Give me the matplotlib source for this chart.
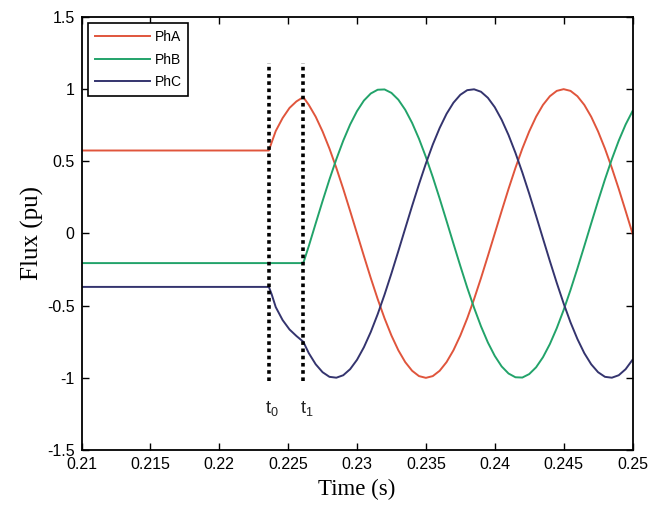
import matplotlib
matplotlib.use("Agg")
import matplotlib.pyplot as plt

# time samples (s)
time = [0.2100, 0.2236, 0.2238, 0.2241, 0.2246, 0.2251, 0.2256, 0.2261,
        0.2265, 0.2270, 0.2275, 0.2280, 0.2285, 0.2290, 0.2295, 0.2300,
        0.2305, 0.2310, 0.2315, 0.2320, 0.2325, 0.2330, 0.2335, 0.2340,
        0.2345, 0.2350, 0.2355, 0.2360, 0.2365, 0.2370, 0.2375, 0.2380,
        0.2385, 0.2390, 0.2395, 0.2400, 0.2405, 0.2410, 0.2415, 0.2420,
        0.2425, 0.2430, 0.2435, 0.2440, 0.2445, 0.2450, 0.2455, 0.2460,
        0.2465, 0.2470, 0.2475, 0.2480, 0.2485, 0.2490, 0.2495, 0.2500]

pha = [0.575, 0.575, 0.63, 0.71, 0.80, 0.87, 0.915, 0.945,
       0.891, 0.809, 0.707, 0.588, 0.454, 0.309, 0.156, 0.0,
       -0.156, -0.309, -0.454, -0.588, -0.707, -0.809, -0.891, -0.951,
       -0.988, -1.0, -0.988, -0.951, -0.891, -0.809, -0.707, -0.588,
       -0.454, -0.309, -0.156, 0.0, 0.156, 0.309, 0.454, 0.588,
       0.707, 0.809, 0.891, 0.951, 0.988, 1.0, 0.988, 0.951,
       0.891, 0.809, 0.707, 0.588, 0.454, 0.309, 0.156, 0.0]

phb = [-0.205, -0.205, -0.205, -0.205, -0.205, -0.205, -0.205, -0.205,
       -0.087, 0.070, 0.225, 0.375, 0.515, 0.643, 0.755, 0.848,
       0.921, 0.970, 0.996, 0.998, 0.974, 0.927, 0.857, 0.766,
       0.656, 0.530, 0.391, 0.242, 0.087, -0.070, -0.225, -0.375,
       -0.515, -0.643, -0.755, -0.848, -0.921, -0.970, -0.996, -0.998,
       -0.974, -0.927, -0.857, -0.766, -0.656, -0.530, -0.391, -0.242,
       -0.087, 0.070, 0.225, 0.375, 0.515, 0.643, 0.755, 0.848]

phc = [-0.37, -0.37, -0.42, -0.51, -0.60, -0.665, -0.71, -0.75,
       -0.829, -0.906, -0.961, -0.993, -0.999, -0.982, -0.940, -0.875,
       -0.788, -0.682, -0.559, -0.423, -0.276, -0.122, 0.035, 0.191,
       0.342, 0.485, 0.616, 0.731, 0.829, 0.906, 0.961, 0.993,
       0.999, 0.982, 0.940, 0.875, 0.788, 0.682, 0.559, 0.423,
       0.276, 0.122, -0.035, -0.191, -0.342, -0.485, -0.616, -0.731,
       -0.829, -0.906, -0.961, -0.993, -0.999, -0.982, -0.940, -0.875]

series_names = ["PhA", "PhB", "PhC"]
event_times = [0.2236, 0.2261]
event_labels = ["$t_0$", "$t_1$"]
xticks = [0.21, 0.215, 0.22, 0.225, 0.23, 0.235, 0.24, 0.245, 0.25]
xticklabels = ["0.21", "0.215", "0.22", "0.225", "0.23", "0.235", "0.24", "0.245", "0.25"]
yticks = [-1.5, -1, -0.5, 0, 0.5, 1, 1.5]
yticklabels = ["-1.5", "-1", "-0.5", "0", "0.5", "1", "1.5"]

colors = ["#e0553c", "#22a36a", "#34346e"]

plt.rcParams["font.family"] = ["Liberation Sans", "DejaVu Sans"]
plt.rcParams["mathtext.fontset"] = "custom"
plt.rcParams["mathtext.rm"] = "Liberation Sans"
plt.rcParams["mathtext.it"] = "Liberation Sans"

fig = plt.figure(figsize=(6.49, 5.07), dpi=100)
ax = fig.add_axes([0.1256, 0.1124, 0.8490, 0.8541])

for vals, name, c in zip([pha, phb, phc], series_names, colors):
    ax.plot(time, vals, color=c, lw=1.4, label=name)

for tx, lab in zip(event_times, event_labels):
    ax.plot([tx, tx], [-1.02, 1.18], color="black", lw=2.6, ls=(0, (1.0, 1.0)))
    ax.text(tx - 0.00025, -1.21, lab, ha="left", va="center", fontsize=13,
            color="#222222")

ax.set_xlim(0.21, 0.25)
ax.set_ylim(-1.5, 1.5)
ax.set_xticks(xticks)
ax.set_xticklabels(xticklabels)
ax.set_yticks(yticks)
ax.set_yticklabels(yticklabels)
ax.tick_params(direction="in", top=True, right=True, length=5, width=1,
               labelsize=11.5, pad=5, colors="black")
for s in ax.spines.values():
    s.set_linewidth(1.3)

ax.set_xlabel("Time (s)", fontsize=16.5, family="Liberation Serif", labelpad=5)
ax.set_ylabel("Flux (pu)", fontsize=18, family="Liberation Serif", labelpad=2)

leg = ax.legend(loc="upper left", fontsize=10, handlelength=4.0,
                handletextpad=0.3, borderaxespad=0.45, labelspacing=0.6,
                fancybox=False, framealpha=1, edgecolor="black",
                borderpad=0.5)
leg.get_frame().set_linewidth(1.2)

fig.savefig("out.png", dpi=100)
